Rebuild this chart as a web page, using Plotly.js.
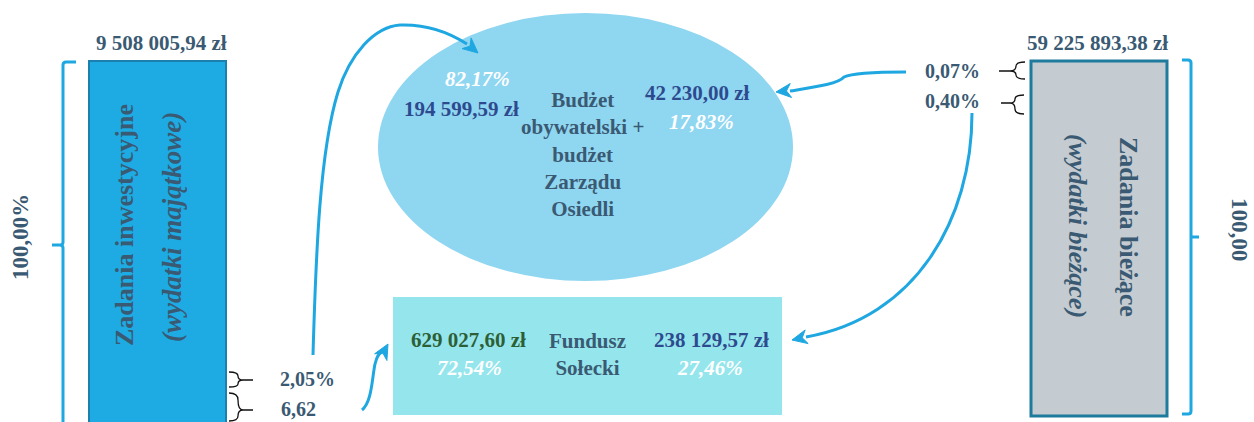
<!DOCTYPE html>
<html>
<head>
<meta charset="utf-8">
<script src="https://cdn.plot.ly/plotly-3.0.1.min.js"></script>
<style>html,body{margin:0;padding:0;background:#fff;}#chart{width:1254px;height:422px;}</style>
</head>
<body>
<div id="chart"></div>
<script>
// ---- data ----
const barTotals = ['9 508 005,94 zł', '59 225 893,38 zł'];
const barTitles = ['Zadania inwestycyjne', 'Zadania bieżące'];
const barSubtitles = ['(wydatki majątkowe)', '(wydatki bieżące)'];
const barShares = ['100,00%', '100,00'];
const investShares = ['2,05%', '6,62'];
const currentShares = ['0,07%', '0,40%'];
const targetNames = ['Budżet<br>obywatelski +<br>budżet<br>Zarządu<br>Osiedli', 'Fundusz<br>Sołecki'];
const fromInvestAmounts = ['194 599,59 zł', '629 027,60 zł'];
const fromInvestPct = ['82,17%', '72,54%'];
const fromCurrentAmounts = ['42 230,00 zł', '238 129,57 zł'];
const fromCurrentPct = ['17,83%', '27,46%'];

// ---- styles ----
const SLATE = '#3a5a73', NAVY = '#2d4a8f', GREEN = '#2d5f37', WHITE = '#ffffff';
const BLUE = '#1ea7e0';
const FONT = 'Liberation Serif';

function txt(x, y, text, size, color, opts) {
  opts = opts || {};
  const lines = text.split('<br>').map(s => opts.italic ? `<b><i>${s}</i></b>` : `<b>${s}</b>`).join('<br>');
  return {
    x: x, y: y, xref: 'x', yref: 'y', text: lines, showarrow: false,
    xanchor: 'center', yanchor: 'middle',
    textangle: opts.angle || 0,
    font: {family: FONT, size: size, color: color}
  };
}
function head(tx, ty, dx, dy) {
  const n = Math.hypot(dx, dy); dx /= n; dy /= n;
  const L = 15, W = 7;
  const bx = tx - dx * L, by = ty - dy * L;
  const px = -dy, py = dx;
  const nx = tx - dx * (L * 0.7), ny = ty - dy * (L * 0.7);
  return {type: 'path', xref: 'x', yref: 'y',
    path: `M${tx},${ty} L${bx + px * W},${by + py * W} L${nx},${ny} L${bx - px * W},${by - py * W} Z`,
    fillcolor: BLUE, line: {color: BLUE, width: 1}};
}
function line(path, color, width) {
  return {type: 'path', xref: 'x', yref: 'y', path: path, line: {color: color || BLUE, width: width || 3}};
}

const shapes = [
  // bars
  {type: 'rect', xref: 'x', yref: 'y', x0: 89, x1: 226, y0: 61, y1: 430, fillcolor: '#1eabe3', line: {color: '#1b80ad', width: 2}},
  {type: 'rect', xref: 'x', yref: 'y', x0: 1031, x1: 1167, y0: 61, y1: 416, fillcolor: '#c5ccd1', line: {color: '#1f7b9e', width: 3}},
  // ellipse
  {type: 'circle', xref: 'x', yref: 'y', x0: 378, x1: 793, y0: 13, y1: 281, fillcolor: '#8fd6f1', line: {width: 0}},
  // box
  {type: 'rect', xref: 'x', yref: 'y', x0: 393, x1: 782, y0: 297, y1: 415, fillcolor: '#95e6ec', line: {width: 0}},
  // big braces
  line('M76,62 L66,62 Q63,62 63,65 L63,242 Q63,245 60,245 L52,245 M60,245 Q63,245 63,248 L63,430', BLUE, 3),
  line('M1182,60 L1188,60 Q1191,60 1191,63 L1191,411 Q1191,414 1188,414 L1182,414 M1191,237 L1199,237', BLUE, 3),
  // small black braces (left)
  line('M229,372 Q238,372 238,376 Q238,380 243,380 Q238,380 238,384 Q238,387 229,387 M243,380 L253,380', '#111', 1.3),
  line('M229,393 Q238,393 238,400 Q238,410 243,410 Q238,410 238,416 Q238,421 229,421 M243,410 L253,410', '#111', 1.3),
  // small black braces (right)
  line('M1025,62 Q1016,62 1016,66 Q1016,71 1010,71 Q1016,71 1016,75 Q1016,79 1025,79 M1010,71 L999,71', '#111', 1.3),
  line('M1024,95 Q1015,95 1015,99 Q1015,103 1010,103 Q1015,103 1015,109 Q1015,114 1024,114 M1010,103 L1001,103', '#111', 1.3),
  // arrows
  line('M313,355 C316,250 320,150 338,92 C350,54 374,27 400,25 C428,24 450,33 467,44', BLUE, 3),
  head(478, 53, 1, 0.85),
  line('M362,410 C372,402 372,378 375,364 C377,356 379,353 382,352', BLUE, 3),
  head(388, 344, 0.55, -1),
  line('M906,72 C880,72 852,73 844,77 C838,84 815,87 790,91', BLUE, 3),
  head(776, 92, -1, 0.1),
  line('M972,113 C972,220 915,318 806,337', BLUE, 3),
  head(792, 340, -1, 0.22)
];

const annotations = [
  // bar totals
  txt(161, 43, barTotals[0], 21, SLATE),
  txt(1097, 43, barTotals[1], 21, SLATE),
  // bar titles (vertical)
  txt(124, 225, barTitles[0], 26, SLATE, {angle: -90}),
  txt(172, 227, barSubtitles[0], 27, SLATE, {angle: -90, italic: true}),
  txt(1129, 227, barTitles[1], 26, SLATE, {angle: 90}),
  txt(1078, 226, barSubtitles[1], 26, SLATE, {angle: 90, italic: true}),
  // 100%
  txt(20, 237, barShares[0], 23, SLATE, {angle: -90}),
  txt(1240, 229, barShares[1], 23, SLATE, {angle: 90}),
  // small shares
  txt(307, 379, investShares[0], 20, SLATE),
  txt(298, 409, investShares[1], 20, SLATE),
  txt(952, 71, currentShares[0], 20, SLATE),
  txt(952, 101, currentShares[1], 20, SLATE),
  // ellipse
  txt(582, 154, targetNames[0], 21, SLATE),
  txt(477, 79, fromInvestPct[0], 21, WHITE, {italic: true}),
  txt(461, 109, fromInvestAmounts[0], 21, NAVY),
  txt(697, 93, fromCurrentAmounts[0], 21, NAVY),
  txt(701, 122, fromCurrentPct[0], 21, WHITE, {italic: true}),
  // box
  txt(587, 354, targetNames[1], 21, SLATE),
  txt(468, 340, fromInvestAmounts[1], 21, GREEN),
  txt(469, 368, fromInvestPct[1], 21, WHITE, {italic: true}),
  txt(711, 340, fromCurrentAmounts[1], 21, NAVY),
  txt(710, 368, fromCurrentPct[1], 21, WHITE, {italic: true})
];

const layout = {
  width: 1254, height: 422,
  margin: {l: 0, r: 0, t: 0, b: 0},
  paper_bgcolor: '#ffffff', plot_bgcolor: '#ffffff',
  showlegend: false,
  font: {family: FONT},
  xaxis: {range: [0, 1254], visible: false, fixedrange: true},
  yaxis: {range: [422, 0], visible: false, fixedrange: true},
  shapes: shapes,
  annotations: annotations
};
Plotly.newPlot('chart', [], layout, {staticPlot: true, displayModeBar: false});
</script>
</body>
</html>
